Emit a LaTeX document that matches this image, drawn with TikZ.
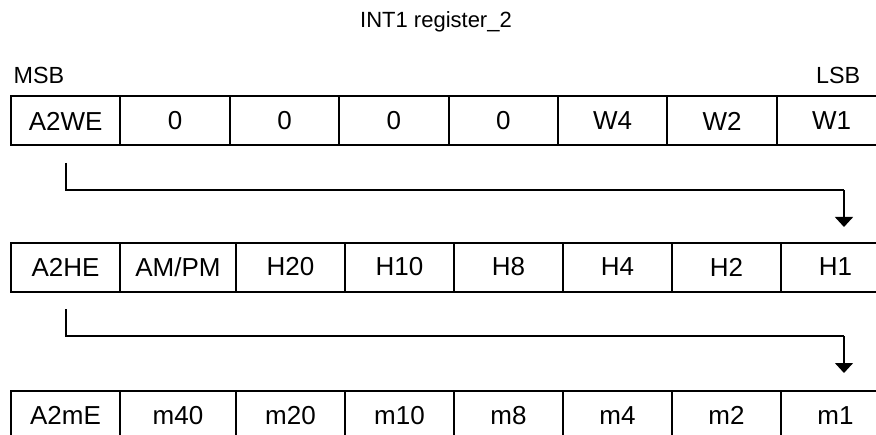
\documentclass[tikz,border=0pt]{standalone}
\usepackage{fontspec}
\setmainfont{Liberation Sans}
\usetikzlibrary{arrows.meta}

\begin{document}
\begin{tikzpicture}[x=0.75pt, y=-0.75pt, >={Triangle[width=13.5pt,length=7.5pt]},
  cell/.style={draw, line width=1.5pt, inner sep=0pt, minimum height=36.75pt,
    font=\fontsize{19.5}{23}\selectfont},
  link/.style={line width=1.1pt}]

  \clip (0,0) rectangle (876,435);

  % Title and bit order
  \node[font=\fontsize{16.5}{20}\selectfont] (title) at (436,22) {INT1 register\_2};
  \node[anchor=west, font=\fontsize{17.5}{21}\selectfont] (msb) at (9,75) {MSB};
  \node[anchor=east, font=\fontsize{17.5}{21}\selectfont] (lsb) at (865,75) {LSB};

  % Row 1: week
  \foreach \lbl [count=\i] in {A2WE,0,0,0,0,W4,W2,W1}
    \node[cell, minimum width=82pt] (w\i) at ({11+109.4*(\i-0.5)},121) {\lbl};

  % Row 2: hour
  \foreach \lbl/\cx/\w [count=\i] in {A2HE/65.5/109, {AM/PM}/178/116, H20/290.5/109,
      H10/399.5/109, H8/508.5/109, H4/617.5/109, H2/726.5/109, H1/835.5/109}
    \node[cell, minimum width=\w*0.75pt] (h\i) at (\cx,267) {\lbl};

  % Row 3: minute
  \foreach \lbl/\cx/\w [count=\i] in {A2mE/65.5/109, m40/178/116, m20/290.5/109,
      m10/399.5/109, m8/508.5/109, m4/617.5/109, m2/726.5/109, m1/835.5/109}
    \node[cell, minimum width=\w*0.75pt] (m\i) at (\cx,415.5) {\lbl};

  % Links between rows
  \coordinate (wout) at (66,163);
  \coordinate (wbend) at (844,190);
  \coordinate (hin) at (844,227);
  \draw[link] (wout) |- (wbend);
  \draw[link,->] (wbend) -- (hin);

  \coordinate (hout) at (66,309);
  \coordinate (hbend) at (844,336);
  \coordinate (min) at (844,373);
  \draw[link] (hout) |- (hbend);
  \draw[link,->] (hbend) -- (min);

\end{tikzpicture}
\end{document}
